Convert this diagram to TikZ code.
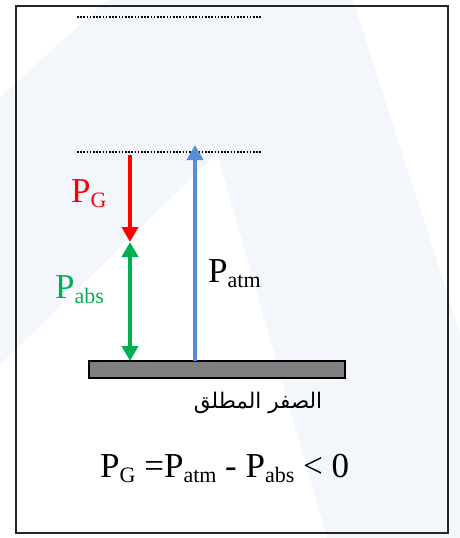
\documentclass[tikz,border=0pt]{standalone}
\usepackage{fontspec}
\setmainfont{Liberation Serif}
\newfontfamily\arabicfont[Script=Arabic]{DejaVu Sans}
\TeXXeTstate=1
\usepackage{xcolor}
\usetikzlibrary{arrows.meta, positioning}

\definecolor{gaugered}{RGB}{255,0,0}
\definecolor{absgreen}{RGB}{0,176,80}
\definecolor{atmblue}{RGB}{85,142,213}
\definecolor{barfill}{RGB}{128,128,128}
\definecolor{wmark}{RGB}{243,247,252}

\newcommand{\lowtxt}[1]{\raisebox{-5pt}{\fontsize{22}{22}\selectfont #1}}

\begin{document}
\begin{tikzpicture}[
  x=1pt, y=-1pt,
  bigfont/.style={font=\fontsize{35}{40}\selectfont, inner sep=0pt},
  plabel/.style={bigfont, anchor=base west},
  dotline/.style={line width=2pt, dash pattern=on 1.5pt off 1.7pt},
  arr/.style={line width=4.5pt, -{Triangle[width=16pt,length=15pt]}},
  dblarr/.style={line width=4.5pt, {Triangle[width=16pt,length=15pt]}-{Triangle[width=16pt,length=15pt]}},
  zerobar/.style={draw, line width=1.5pt, fill=barfill, minimum width=256pt, minimum height=17pt, inner sep=0pt}
]
\useasboundingbox (0,0) rectangle (460,538);

% watermark in the background
\fill[wmark] (107,0) -- (353,0) -- (460,333) -- (460,538) -- (327,538)
  -- (217,153) -- (0,365) -- (0,97) -- cycle;

% frame
\draw[line width=2pt, black!85] (16,6) rectangle (448,533);

% levels
\coordinate (topA) at (77,17);
\coordinate (topB) at (262,17);
\coordinate (atmA) at (77,152);
\coordinate (atmB) at (262,152);
\draw[dotline] (topA) -- (topB);
\draw[dotline] (atmA) -- (atmB);

% absolute zero
\node[zerobar] (zero) at (217,369.5) {};
\node[font=\fontsize{21.5}{24}\selectfont, inner sep=0pt] (zerolbl) at (258,403)
  {\arabicfont\beginR الصفر المطلق\endR};

% arrows
\coordinate (gtop) at (130,155);
\coordinate (gmid) at (130,242);
\coordinate (gbot) at (130,361);
\coordinate (abot) at (195,361);
\coordinate (atop) at (195,145);
\draw[arr, gaugered] (gtop) -- (gmid);
\draw[dblarr, absgreen] (gmid) -- (gbot);
\draw[arr, atmblue] (abot) -- (atop);

% labels
\node[plabel, text=gaugered] (pg) at (71,202) {P\lowtxt{G}};
\node[plabel, text=absgreen] (pabs) at (55,298) {P\lowtxt{abs}};
\node[plabel] (patm) at (208,282) {P\lowtxt{atm}};

% relation
\node[plabel] (rel) at (100,477) {P\lowtxt{G} =P\lowtxt{atm} - P\lowtxt{abs} {<} 0};

\end{tikzpicture}
\end{document}
